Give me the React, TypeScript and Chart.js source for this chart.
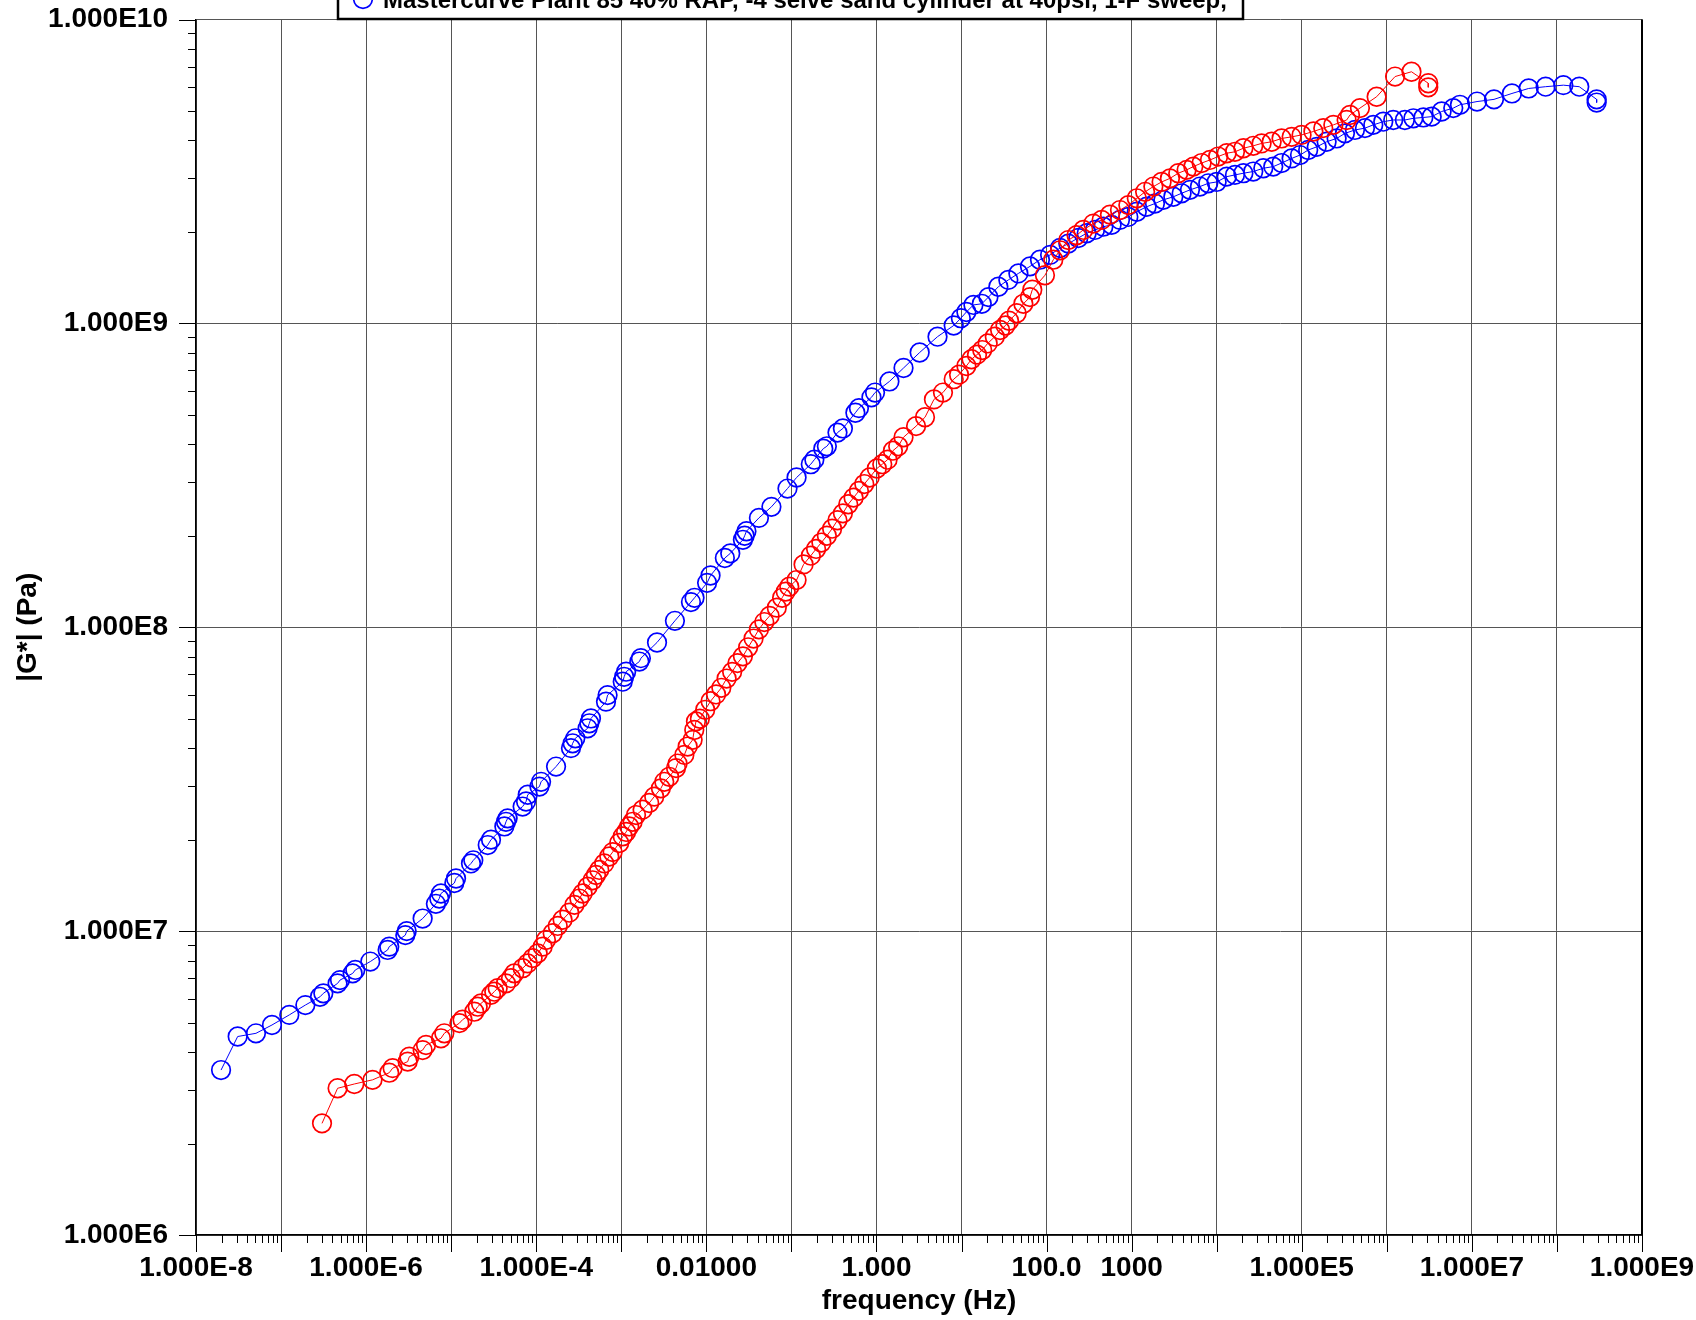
import React, { useEffect, useRef } from "react";
import { Chart, registerables } from "chart.js";

Chart.register(...registerables);

// Blue series: frequency (Hz) and |G*| (Pa)
const blueFreq = [
  1.97e-8, 3.09e-8, 5.07e-8, 7.82e-8, 1.25e-7, 1.93e-7, 2.87e-7, 3.14e-7, 4.62e-7, 4.93e-7,
  6.95e-7, 7.46e-7, 1.12e-6, 1.79e-6, 1.87e-6, 2.89e-6, 3.0e-6, 4.62e-6, 6.61e-6, 7.24e-6,
  7.59e-6, 1.09e-5, 1.14e-5, 1.71e-5, 1.82e-5, 2.69e-5, 2.94e-5, 4.22e-5, 4.41e-5, 4.61e-5,
  6.92e-5, 7.59e-5, 7.94e-5, 1.09e-4, 1.14e-4, 1.71e-4, 2.56e-4, 2.68e-4, 2.88e-4, 4.02e-4,
  4.21e-4, 4.4e-4, 6.61e-4, 6.9e-4, 1.04e-3, 1.08e-3, 1.14e-3, 1.63e-3, 1.7e-3, 2.63e-3,
  4.27e-3, 6.59e-3, 7.26e-3, 1.02e-2, 1.12e-2, 1.65e-2, 1.91e-2, 2.69e-2, 2.82e-2, 2.96e-2,
  4.15e-2, 5.82e-2, 8.99e-2, 0.115, 0.169, 0.186, 0.237, 0.261, 0.348, 0.403,
  0.565, 0.622, 0.873, 0.962, 1.42, 2.08, 3.22, 5.22, 8.09, 9.82,
  11.4, 13.8, 17.3, 20.7, 27.1, 35.5, 46.6, 63.8, 83.6, 110,
  144, 180, 236, 296, 371, 465, 582, 729, 914, 1150,
  1500, 1880, 2360, 3090, 3870, 4850, 6350, 7960, 9980, 13100,
  16400, 20600, 26900, 35300, 46200, 57900, 76000, 95300, 1.19e5, 1.5e5,
  1.96e5, 2.57e5, 3.22e5, 4.22e5, 5.53e5, 6.93e5, 9.08e5, 1.19e6, 1.63e6, 2.05e6,
  2.69e6, 3.37e6, 4.41e6, 6.04e6, 7.24e6, 1.15e7, 1.82e7, 2.96e7, 4.65e7, 7.36e7,
  1.19e8, 1.83e8, 2.93e8, 2.93e8,
];
const blueModulus = [
  3.49e6, 4.5e6, 4.61e6, 4.91e6, 5.3e6, 5.71e6, 6.08e6, 6.24e6, 6.73e6, 6.9e6,
  7.26e6, 7.45e6, 7.94e6, 8.67e6, 8.89e6, 9.7e6, 1.0e7, 1.1e7, 1.23e7, 1.28e7,
  1.33e7, 1.44e7, 1.49e7, 1.67e7, 1.71e7, 1.92e7, 2.0e7, 2.21e7, 2.29e7, 2.35e7,
  2.57e7, 2.67e7, 2.81e7, 2.99e7, 3.1e7, 3.48e7, 4.0e7, 4.15e7, 4.31e7, 4.65e7,
  4.83e7, 5.01e7, 5.69e7, 5.98e7, 6.62e7, 6.87e7, 7.14e7, 7.71e7, 7.91e7, 8.91e7,
  1.05e8, 1.21e8, 1.25e8, 1.4e8, 1.48e8, 1.69e8, 1.75e8, 1.94e8, 2.0e8, 2.07e8,
  2.29e8, 2.49e8, 2.86e8, 3.11e8, 3.44e8, 3.56e8, 3.87e8, 3.94e8, 4.37e8, 4.51e8,
  5.08e8, 5.26e8, 5.71e8, 5.92e8, 6.44e8, 7.13e8, 8.02e8, 9.04e8, 9.84e8, 1.04e9,
  1.09e9, 1.15e9, 1.16e9, 1.22e9, 1.32e9, 1.39e9, 1.46e9, 1.54e9, 1.62e9, 1.68e9,
  1.77e9, 1.83e9, 1.91e9, 1.98e9, 2.03e9, 2.08e9, 2.11e9, 2.19e9, 2.24e9, 2.33e9,
  2.42e9, 2.48e9, 2.55e9, 2.61e9, 2.68e9, 2.75e9, 2.82e9, 2.89e9, 2.92e9, 3.04e9,
  3.08e9, 3.12e9, 3.16e9, 3.24e9, 3.28e9, 3.37e9, 3.49e9, 3.58e9, 3.72e9, 3.81e9,
  3.96e9, 4.06e9, 4.22e9, 4.33e9, 4.39e9, 4.5e9, 4.61e9, 4.67e9, 4.67e9, 4.73e9,
  4.76e9, 4.79e9, 4.98e9, 5.11e9, 5.24e9, 5.37e9, 5.46e9, 5.71e9, 5.93e9, 6.01e9,
  6.08e9, 6.01e9, 5.46e9, 5.33e9,
];

// Red series: frequency (Hz) and |G*| (Pa)
const redFreq = [
  3.03e-7, 4.62e-7, 7.26e-7, 1.19e-6, 1.87e-6, 2.05e-6, 3.08e-6, 3.22e-6, 4.62e-6, 5.06e-6,
  7.59e-6, 8.3e-6, 1.25e-5, 1.36e-5, 1.87e-5, 2.05e-5, 2.24e-5, 2.94e-5, 3.21e-5, 3.52e-5,
  4.41e-5, 5.05e-5, 5.52e-5, 6.92e-5, 7.93e-5, 9.08e-5, 1.04e-4, 1.19e-4, 1.3e-4, 1.56e-4,
  1.79e-4, 2.04e-4, 2.45e-4, 2.81e-4, 3.21e-4, 3.51e-4, 4.02e-4, 4.6e-4, 5.04e-4, 5.51e-4,
  6.31e-4, 7.23e-4, 7.91e-4, 9.46e-4, 1.04e-3, 1.14e-3, 1.24e-3, 1.36e-3, 1.49e-3, 1.78e-3,
  2.13e-3, 2.44e-3, 2.92e-3, 3.2e-3, 3.66e-3, 4.4e-3, 4.59e-3, 5.51e-3, 6.03e-3, 6.9e-3,
  7.21e-3, 7.55e-3, 8.39e-3, 9.7e-3, 1.12e-2, 1.3e-2, 1.5e-2, 1.73e-2, 2.01e-2, 2.32e-2,
  2.69e-2, 3.1e-2, 3.59e-2, 4.15e-2, 4.8e-2, 5.55e-2, 6.73e-2, 7.78e-2, 8.57e-2, 9.44e-2,
  0.115, 0.139, 0.169, 0.195, 0.225, 0.261, 0.301, 0.348, 0.403, 0.466,
  0.538, 0.622, 0.719, 0.832, 1.01, 1.17, 1.35, 1.56, 1.8, 2.08,
  2.92, 3.72, 4.74, 6.05, 8.09, 9.35, 11.4, 13.1, 15.2, 17.5,
  20.3, 24.6, 28.4, 32.9, 36.2, 44.5, 53.3, 63.8, 67.9, 95.7,
  120, 144, 180, 225, 270, 354, 444, 556, 729, 914,
  1150, 1440, 1800, 2250, 2820, 3530, 4430, 5310, 6650, 8340,
  10400, 13100, 16400, 20600, 26900, 33700, 44300, 57900, 76000, 99500,
  1.37e5, 1.79e5, 2.35e5, 3.37e5, 3.69e5, 4.83e5, 7.59e5, 1.25e6, 1.95e6, 3.07e6,
  3.07e6,
];
const redModulus = [
  2.33e6, 3.04e6, 3.14e6, 3.24e6, 3.42e6, 3.54e6, 3.72e6, 3.86e6, 4.06e6, 4.22e6,
  4.44e6, 4.61e6, 4.98e6, 5.11e6, 5.43e6, 5.64e6, 5.78e6, 6.17e6, 6.32e6, 6.49e6,
  6.73e6, 7.0e6, 7.26e6, 7.55e6, 7.83e6, 8.15e6, 8.45e6, 8.89e6, 9.35e6, 9.84e6,
  1.04e7, 1.09e7, 1.15e7, 1.22e7, 1.28e7, 1.33e7, 1.4e7, 1.47e7, 1.53e7, 1.59e7,
  1.67e7, 1.76e7, 1.82e7, 1.95e7, 2.05e7, 2.12e7, 2.21e7, 2.29e7, 2.41e7, 2.51e7,
  2.64e7, 2.77e7, 2.95e7, 3.1e7, 3.22e7, 3.44e7, 3.56e7, 3.8e7, 4.05e7, 4.26e7,
  4.59e7, 4.9e7, 5.0e7, 5.35e7, 5.71e7, 6.01e7, 6.32e7, 6.78e7, 7.13e7, 7.62e7,
  8.02e7, 8.59e7, 9.18e7, 9.84e7, 1.04e8, 1.09e8, 1.16e8, 1.25e8, 1.31e8, 1.36e8,
  1.43e8, 1.61e8, 1.72e8, 1.81e8, 1.9e8, 2.0e8, 2.11e8, 2.25e8, 2.37e8, 2.54e8,
  2.67e8, 2.81e8, 2.96e8, 3.11e8, 3.33e8, 3.44e8, 3.56e8, 3.81e8, 3.94e8, 4.22e8,
  4.59e8, 4.91e8, 5.62e8, 5.92e8, 6.55e8, 6.78e8, 7.24e8, 7.62e8, 7.89e8, 8.17e8,
  8.59e8, 9.04e8, 9.51e8, 9.84e8, 1.02e9, 1.08e9, 1.16e9, 1.22e9, 1.29e9, 1.44e9,
  1.62e9, 1.74e9, 1.88e9, 1.95e9, 2.03e9, 2.13e9, 2.19e9, 2.28e9, 2.36e9, 2.45e9,
  2.58e9, 2.71e9, 2.82e9, 2.92e9, 3.0e9, 3.12e9, 3.2e9, 3.28e9, 3.37e9, 3.45e9,
  3.54e9, 3.63e9, 3.67e9, 3.77e9, 3.84e9, 3.91e9, 3.96e9, 4.06e9, 4.11e9, 4.17e9,
  4.28e9, 4.39e9, 4.5e9, 4.67e9, 4.85e9, 5.11e9, 5.57e9, 6.49e9, 6.73e9, 6.17e9,
  5.98e9,
];

// Axis tick labels
const xDecadeExponents = [-8, -7, -6, -5, -4, -3, -2, -1, 0, 1, 2, 3, 4, 5, 6, 7, 8, 9];
const xLabelValues = [1e-8, 1e-6, 1e-4, 1e-2, 1, 100, 1000, 1e5, 1e7, 1e9];
const xLabelTexts = ["1.000E-8", "1.000E-6", "1.000E-4", "0.01000", "1.000", "100.0", "1000", "1.000E5", "1.000E7", "1.000E9"];
const yDecadeExponents = [6, 7, 8, 9, 10];
const yLabelValues = [1e6, 1e7, 1e8, 1e9, 1e10];
const yLabelTexts = ["1.000E6", "1.000E7", "1.000E8", "1.000E9", "1.000E10"];

const legendText = "Mastercurve Plant 85 40% RAP, -4 seive sand cylinder at 40psi, 1-F sweep,";

const FONT = "'Liberation Sans', Arial, Helvetica, sans-serif";
const GRID = "#555555";

function pow10(e: number) {
  return Number("1e" + e);
}

function findLabel(values: number[], texts: string[], v: number) {
  for (let i = 0; i < values.length; i++) {
    if (Math.abs(v - values[i]) <= values[i] * 1e-6) return texts[i];
  }
  return "";
}

function toPoints(xs: number[], ys: number[]) {
  const n = Math.min(xs.length, ys.length);
  const out: { x: number; y: number }[] = [];
  for (let i = 0; i < n; i++) out.push({ x: xs[i], y: ys[i] });
  return out;
}

const decorPlugin = {
  id: "decor",
  afterDraw(chart: any) {
    const ctx = chart.ctx;
    const area = chart.chartArea;
    const xs = chart.scales.x;
    const ys = chart.scales.y;
    ctx.save();
    ctx.strokeStyle = "#000";
    ctx.lineWidth = 1;
    // x ticks (below the axis)
    for (const e of xDecadeExponents) {
      const base = pow10(e);
      const px = Math.round(xs.getPixelForValue(base)) + 0.5;
      ctx.beginPath();
      ctx.moveTo(px, area.bottom);
      ctx.lineTo(px, area.bottom + 17);
      ctx.stroke();
      if (e < 9) {
        for (let m = 2; m <= 9; m++) {
          const p = Math.round(xs.getPixelForValue(m * base)) + 0.5;
          ctx.beginPath();
          ctx.moveTo(p, area.bottom);
          ctx.lineTo(p, area.bottom + 8);
          ctx.stroke();
        }
      }
    }
    // y ticks (left of the axis)
    for (const e of yDecadeExponents) {
      const base = pow10(e);
      const py = Math.round(ys.getPixelForValue(base)) + 0.5;
      ctx.beginPath();
      ctx.moveTo(area.left - 17, py);
      ctx.lineTo(area.left, py);
      ctx.stroke();
      if (e < 10) {
        for (let m = 2; m <= 9; m++) {
          const p = Math.round(ys.getPixelForValue(m * base)) + 0.5;
          ctx.beginPath();
          ctx.moveTo(area.left - 8, p);
          ctx.lineTo(area.left, p);
          ctx.stroke();
        }
      }
    }
    // right border
    ctx.lineWidth = 2;
    ctx.beginPath();
    ctx.moveTo(area.right, area.top);
    ctx.lineTo(area.right, area.bottom);
    ctx.stroke();

    // legend box (partially above the canvas)
    const bx = 338;
    const bw = 905;
    const bBottom = 19;
    ctx.fillStyle = "#fff";
    ctx.fillRect(bx, -20, bw, bBottom + 20);
    ctx.lineWidth = 2.5;
    ctx.strokeStyle = "#000";
    ctx.strokeRect(bx, -20, bw, bBottom + 20);
    ctx.beginPath();
    ctx.arc(363, -1, 9.3, 0, Math.PI * 2);
    ctx.strokeStyle = "#0000ff";
    ctx.lineWidth = 1.7;
    ctx.stroke();
    ctx.fillStyle = "#000";
    ctx.font = "bold 24px " + FONT;
    ctx.textAlign = "left";
    ctx.textBaseline = "alphabetic";
    ctx.fillText(legendText, 383, 8);
    ctx.restore();
  },
};

export default function App() {
  const canvasRef = useRef<HTMLCanvasElement | null>(null);

  useEffect(() => {
    document.body.style.margin = "0";
    const canvas = canvasRef.current;
    if (!canvas) return;
    const chart = new Chart(canvas, {
      type: "scatter",
      data: {
        datasets: [
          {
            label: "red",
            data: toPoints(redFreq, redModulus),
            showLine: true,
            borderColor: "#ff0000",
            borderWidth: 1,
            pointStyle: "circle",
            pointRadius: 9.3,
            pointBorderWidth: 1.7,
            pointBorderColor: "#ff0000",
            pointBackgroundColor: "rgba(0,0,0,0)",
            pointHoverRadius: 9.3,
          },
          {
            label: legendText,
            data: toPoints(blueFreq, blueModulus),
            showLine: true,
            borderColor: "#0000ff",
            borderWidth: 1,
            pointStyle: "circle",
            pointRadius: 9.3,
            pointBorderWidth: 1.7,
            pointBorderColor: "#0000ff",
            pointBackgroundColor: "rgba(0,0,0,0)",
            pointHoverRadius: 9.3,
          },
        ],
      },
      options: {
        animation: false,
        responsive: false,
        devicePixelRatio: 1,
        events: [],
        layout: { padding: { top: 19.5, right: 54, left: 0, bottom: 0 } },
        plugins: {
          legend: { display: false },
          tooltip: { enabled: false },
          title: { display: false },
        },
        scales: {
          x: {
            type: "logarithmic",
            min: 1e-8,
            max: 1e9,
            afterBuildTicks: (scale: any) => {
              scale.ticks = xDecadeExponents.map((e) => ({ value: pow10(e) }));
            },
            afterFit: (scale: any) => {
              scale.height = 85;
              scale.paddingLeft = 0;
              scale.paddingRight = 0;
            },
            grid: { color: GRID, lineWidth: 1, drawTicks: false },
            border: { color: "#000", width: 1.5 },
            ticks: {
              autoSkip: false,
              maxRotation: 0,
              minRotation: 0,
              padding: 16,
              color: "#000",
              font: { family: FONT, size: 28, weight: "bold" },
              callback: (v: any) => findLabel(xLabelValues, xLabelTexts, Number(v)),
            },
            title: {
              display: true,
              text: "frequency (Hz)",
              color: "#000",
              font: { family: FONT, size: 28, weight: "bold" },
              padding: { top: 0, bottom: 2 },
            },
          },
          y: {
            type: "logarithmic",
            min: 1e6,
            max: 1e10,
            afterBuildTicks: (scale: any) => {
              scale.ticks = yDecadeExponents.map((e) => ({ value: pow10(e) }));
            },
            afterFit: (scale: any) => {
              scale.width = 196;
              scale.paddingTop = 0;
              scale.paddingBottom = 0;
            },
            grid: { color: GRID, lineWidth: 1, drawTicks: false },
            border: { color: "#000", width: 1.5 },
            ticks: {
              autoSkip: false,
              padding: 28,
              color: "#000",
              font: { family: FONT, size: 28, weight: "bold" },
              callback: (v: any) => findLabel(yLabelValues, yLabelTexts, Number(v)),
            },
            title: {
              display: true,
              text: "|G*| (Pa)",
              color: "#000",
              font: { family: FONT, size: 28, weight: "bold" },
              padding: { top: 11, bottom: 0 },
            },
          },
        },
      } as any,
      plugins: [decorPlugin],
    });
    return () => chart.destroy();
  }, []);

  return (
    <div style={{ width: 1696, height: 1320, background: "#fff" }}>
      <canvas ref={canvasRef} width={1696} height={1320} style={{ display: "block", width: 1696, height: 1320 }} />
    </div>
  );
}
